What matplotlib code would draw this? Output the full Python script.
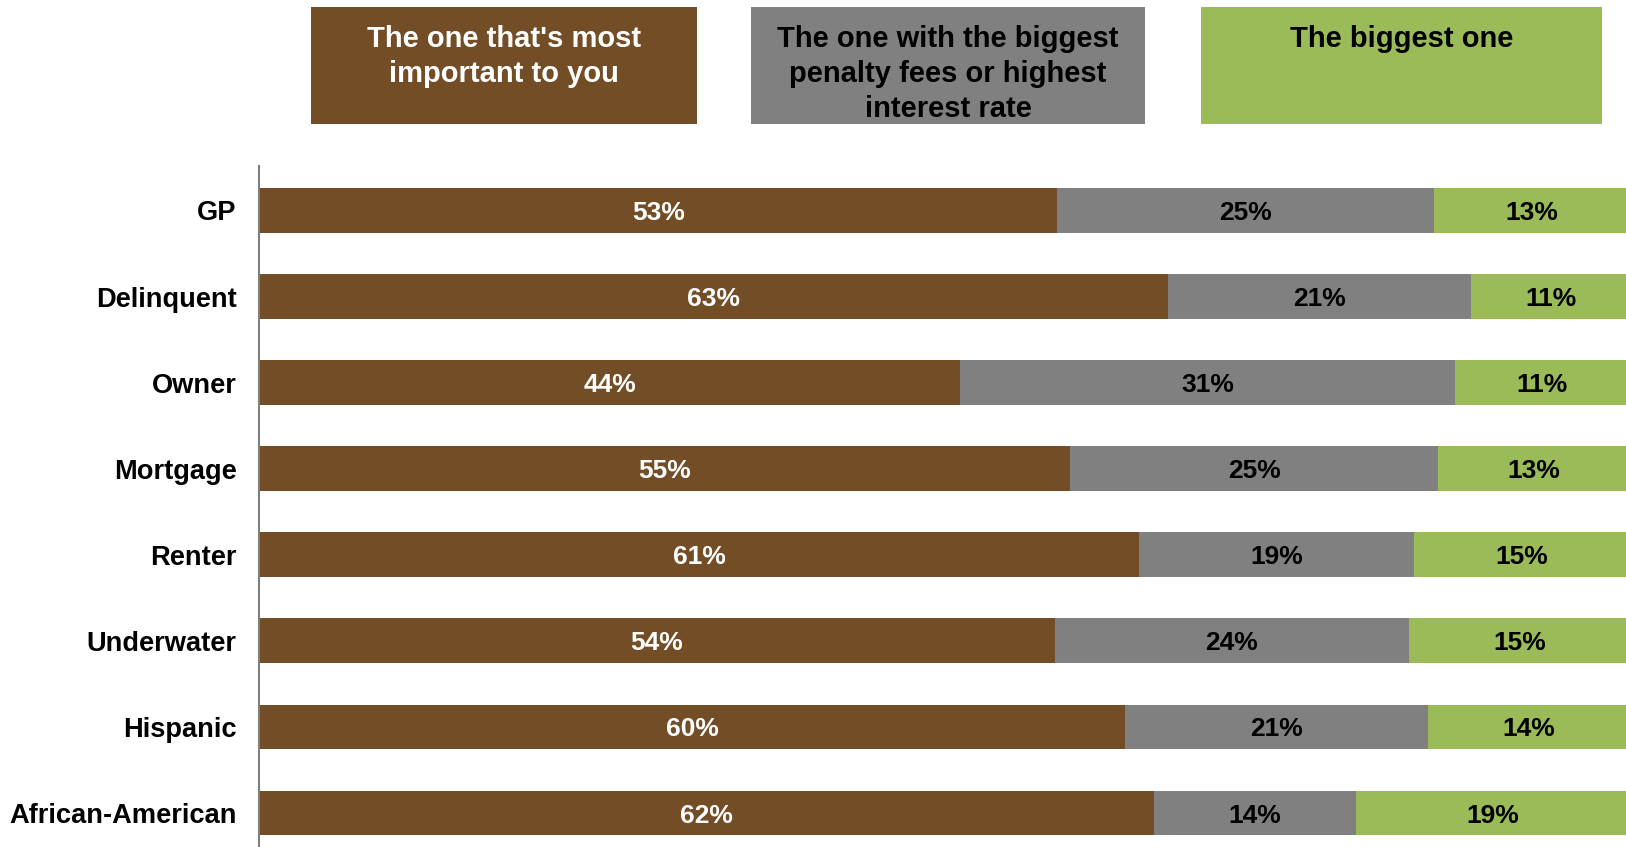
import matplotlib
matplotlib.use("Agg")
import matplotlib.pyplot as plt
from matplotlib.patches import Rectangle
import numpy as np

plt.rcParams['font.family'] = ['Liberation Sans', 'DejaVu Sans']

categories = ["GP", "Delinquent", "Owner", "Mortgage", "Renter",
              "Underwater", "Hispanic", "African-American"]
most_important = [53, 63, 44, 55, 61, 54, 60, 62]
highest_rate = [25, 21, 31, 25, 19, 24, 21, 14]
biggest = [13, 11, 11, 13, 15, 15, 14, 19]

series_names = ["The one that's most\nimportant to you",
                "The one with the biggest\npenalty fees or highest\ninterest rate",
                "The biggest one"]
colors = ["#734D26", "#808080", "#9BBB59"]
text_colors = ["white", "black", "black"]

W, H = 1626, 847
fig = plt.figure(figsize=(W / 100, H / 100), dpi=100)

# axes in pixel terms: left edge at the vertical rule, running just past the right edge
ax_left, ax_right = 259, 1630
ax_top, ax_bottom = 166, 847
ax = fig.add_axes([ax_left / W, 1 - ax_bottom / H,
                   (ax_right - ax_left) / W, (ax_bottom - ax_top) / H])

data = np.array([most_important, highest_rate, biggest], dtype=float)
shares = data / data.sum(axis=0)
y = np.arange(len(categories))
left = np.zeros(len(categories))
for k in range(3):
    ax.barh(y, shares[k], left=left, height=0.52, color=colors[k], edgecolor='none')
    for i in range(len(categories)):
        ax.text(left[i] + shares[k][i] / 2, y[i], f"{int(data[k][i])}%",
                ha='center', va='center_baseline', fontsize=19, fontweight='bold',
                color=text_colors[k])
    left += shares[k]

ax.set_xlim(0, 1)
ax.set_ylim(7.395, -0.517)
ax.set_yticks(y)
ax.set_yticklabels(categories, fontsize=19.6, fontweight='bold')
ax.tick_params(axis='y', length=0, pad=16)
ax.set_xticks([])
for s in ["top", "right", "bottom"]:
    ax.spines[s].set_visible(False)
ax.spines["left"].set_color("#7F7F7F")
ax.spines["left"].set_linewidth(1.5)

# header boxes acting as the legend
boxes = [(311, 697), (751, 1145), (1201, 1602)]
box_top, box_bottom = 7, 124
for (x0, x1), name, c, tc in zip(boxes, series_names, colors, text_colors):
    fig.patches.append(Rectangle((x0 / W, 1 - box_bottom / H), (x1 - x0) / W,
                                 (box_bottom - box_top) / H,
                                 transform=fig.transFigure, facecolor=c,
                                 edgecolor='none', zorder=0))
    fig.text((x0 + x1) / 2 / W, 1 - 25 / H, name, ha='center', va='top',
             fontsize=21, fontweight='bold', color=tc, linespacing=1.32)

fig.savefig("out.png", dpi=100)
